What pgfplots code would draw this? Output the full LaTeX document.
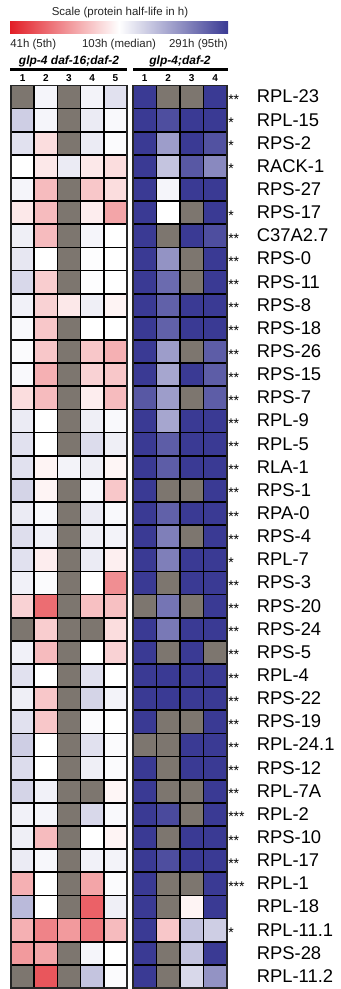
\documentclass[border=0pt]{standalone}
\usepackage{fontspec}
\setmainfont{Liberation Sans}
\usepackage{pgfplots}
\pgfplotsset{compat=1.18}

\definecolor{cred}{RGB}{226,30,38}
\definecolor{cblue}{RGB}{58,58,148}
\definecolor{cgray}{RGB}{125,118,111}

% value scale: -1 = 41h (5th, red), 0 = 103h (median, white), 1 = 291h (95th, blue); -2 = no data (gray)
\pgfplotsset{
  colormap={hl}{[1pt] color(0pt)=(cgray) color(9pt)=(cgray) color(10pt)=(cred) color(20pt)=(white) color(30pt)=(cblue)},
  hm/.style={
    scale only axis, height=676.9pt, y dir=reverse,
    ymin=-0.5, ymax=38.5, enlargelimits=false,
    colormap name=hl, point meta min=-2, point meta max=1,
    axis on top,
    ytick={0,...,38},
    minor ytick={-0.5,0.5,...,38.5},
    xminorgrids=true, yminorgrids=true,
    minor grid style={black, line width=1.3pt},
    major tick length=0pt, minor tick length=0pt,
    axis line style={black!85, line width=1.3pt},
    xticklabel pos=upper,
    xticklabel style={font=\bfseries\fontsize{7.5}{8}\selectfont, inner sep=0pt, anchor=south, yshift=3pt},
    /pgf/number format/assume math mode=true,
  },
}
\newcommand\lab[2]{\makebox[21.4pt][l]{\raisebox{-1.2pt}{\fontsize{10.5}{10}\selectfont #1}}#2}

\begin{document}
\begin{tikzpicture}
\useasboundingbox (0pt,0pt) rectangle (255pt,-741.75pt);

% scale bar
\node[anchor=base, font=\fontsize{8.6}{10}\selectfont, text=black!85] at (90pt,-11.25pt) {Scale (protein half-life in h)};
\shade[left color=cred, right color=white] (7.5pt,-15.75pt) rectangle (89.25pt,-24.75pt);
\shade[left color=white, right color=cblue] (89.25pt,-15.75pt) rectangle (171pt,-24.75pt);
\node[anchor=base west, inner sep=0pt, font=\fontsize{8.6}{10}\selectfont, text=black!85] at (7.5pt,-35.25pt) {41h (5th)};
\node[anchor=base, inner sep=0pt, font=\fontsize{8.6}{10}\selectfont, text=black!85] at (89.25pt,-35.25pt) {103h (median)};
\node[anchor=base east, inner sep=0pt, font=\fontsize{8.6}{10}\selectfont, text=black!85] at (171pt,-35.25pt) {291h (95th)};

% group headers
\node[anchor=base, inner sep=0pt, font=\bfseries\itshape\fontsize{9}{10}\selectfont] at (51.75pt,-48.4pt) {glp-4 daf-16;daf-2};
\node[anchor=base, inner sep=0pt, font=\bfseries\itshape\fontsize{9}{10}\selectfont] at (135pt,-48.4pt) {glp-4;daf-2};
\draw[line width=2.8pt] (7.5pt,-52.1pt) -- (95.25pt,-52.1pt);
\draw[line width=2.8pt] (99.75pt,-52.1pt) -- (171pt,-52.1pt);

% left heatmap: glp-4 daf-16;daf-2
\begin{axis}[hm, at={(8.25pt,-64.1pt)}, anchor=north west, width=87pt,
  xmin=-0.5, xmax=4.5, xtick={0,...,4}, xticklabels={1,2,3,4,5},
  minor xtick={-0.5,0.5,...,4.5}, yticklabel=\empty]
\addplot[matrix plot*, mesh/cols=5, point meta=explicit] table[meta=v, row sep=\\] {
x y v \\
0 0 -2 \\ 1 0 0.05 \\ 2 0 -2 \\ 3 0 0.06 \\ 4 0 0.15 \\
0 1 0.25 \\ 1 1 0.05 \\ 2 1 -2 \\ 3 1 0.1 \\ 4 1 0.03 \\
0 2 0.15 \\ 1 2 -0.15 \\ 2 2 -2 \\ 3 2 0.1 \\ 4 2 0.02 \\
0 3 0 \\ 1 3 -0.1 \\ 2 3 0.1 \\ 3 3 -0.1 \\ 4 3 -0.15 \\
0 4 0.05 \\ 1 4 -0.3 \\ 2 4 -2 \\ 3 4 -0.25 \\ 4 4 -0.15 \\
0 5 -0.1 \\ 1 5 -0.3 \\ 2 5 -2 \\ 3 5 -0.08 \\ 4 5 -0.4 \\
0 6 0.08 \\ 1 6 -0.3 \\ 2 6 -2 \\ 3 6 0.05 \\ 4 6 0 \\
0 7 0.12 \\ 1 7 0 \\ 2 7 -2 \\ 3 7 0.01 \\ 4 7 0 \\
0 8 0.2 \\ 1 8 -0.22 \\ 2 8 -2 \\ 3 8 0.01 \\ 4 8 0 \\
0 9 0.07 \\ 1 9 -0.2 \\ 2 9 -0.1 \\ 3 9 0.08 \\ 4 9 -0.05 \\
0 10 0.03 \\ 1 10 -0.25 \\ 2 10 -2 \\ 3 10 0 \\ 4 10 0 \\
0 11 0.02 \\ 1 11 -0.25 \\ 2 11 -2 \\ 3 11 -0.25 \\ 4 11 -0.35 \\
0 12 0.03 \\ 1 12 -0.35 \\ 2 12 -2 \\ 3 12 -0.2 \\ 4 12 -0.25 \\
0 13 -0.15 \\ 1 13 -0.3 \\ 2 13 -2 \\ 3 13 -0.08 \\ 4 13 -0.3 \\
0 14 0.1 \\ 1 14 0 \\ 2 14 -2 \\ 3 14 0.08 \\ 4 14 0.03 \\
0 15 0.15 \\ 1 15 0 \\ 2 15 -2 \\ 3 15 0.18 \\ 4 15 0.08 \\
0 16 0.15 \\ 1 16 -0.05 \\ 2 16 0.06 \\ 3 16 0.08 \\ 4 16 -0.04 \\
0 17 0.22 \\ 1 17 -0.05 \\ 2 17 -2 \\ 3 17 0.04 \\ 4 17 -0.25 \\
0 18 0.1 \\ 1 18 0.03 \\ 2 18 -2 \\ 3 18 0.1 \\ 4 18 0.03 \\
0 19 0.17 \\ 1 19 0.07 \\ 2 19 -2 \\ 3 19 0.08 \\ 4 19 0.06 \\
0 20 0.15 \\ 1 20 -0.08 \\ 2 20 -2 \\ 3 20 0.1 \\ 4 20 -0.07 \\
0 21 0.07 \\ 1 21 0.02 \\ 2 21 -2 \\ 3 21 0 \\ 4 21 -0.5 \\
0 22 -0.2 \\ 1 22 -0.65 \\ 2 22 -2 \\ 3 22 -0.28 \\ 4 22 -0.28 \\
0 23 -2 \\ 1 23 -0.22 \\ 2 23 -2 \\ 3 23 -2 \\ 4 23 -0.15 \\
0 24 0.07 \\ 1 24 -0.3 \\ 2 24 -2 \\ 3 24 0 \\ 4 24 -0.2 \\
0 25 0.15 \\ 1 25 0 \\ 2 25 -2 \\ 3 25 0.15 \\ 4 25 0 \\
0 26 0.08 \\ 1 26 -0.25 \\ 2 26 -2 \\ 3 26 0.22 \\ 4 26 0.06 \\
0 27 0.15 \\ 1 27 -0.25 \\ 2 27 -2 \\ 3 27 0.02 \\ 4 27 0 \\
0 28 0.25 \\ 1 28 0 \\ 2 28 -2 \\ 3 28 0.15 \\ 4 28 0.02 \\
0 29 0.18 \\ 1 29 0 \\ 2 29 -2 \\ 3 29 0.08 \\ 4 29 0.02 \\
0 30 0.22 \\ 1 30 0.07 \\ 2 30 -2 \\ 3 30 -2 \\ 4 30 -0.04 \\
0 31 0.07 \\ 1 31 0.05 \\ 2 31 -2 \\ 3 31 0.2 \\ 4 31 0.03 \\
0 32 0.08 \\ 1 32 -0.3 \\ 2 32 -2 \\ 3 32 0 \\ 4 32 -0.05 \\
0 33 0.1 \\ 1 33 0.04 \\ 2 33 -2 \\ 3 33 0.07 \\ 4 33 0.06 \\
0 34 -0.35 \\ 1 34 0 \\ 2 34 -2 \\ 3 34 -0.4 \\ 4 34 0.02 \\
0 35 0.35 \\ 1 35 0 \\ 2 35 -2 \\ 3 35 -0.7 \\ 4 35 0.08 \\
0 36 -0.35 \\ 1 36 -0.55 \\ 2 36 -0.45 \\ 3 36 -0.6 \\ 4 36 -0.3 \\
0 37 -0.45 \\ 1 37 -0.4 \\ 2 37 -2 \\ 3 37 0.05 \\ 4 37 0 \\
0 38 -2 \\ 1 38 -0.75 \\ 2 38 -2 \\ 3 38 0.3 \\ 4 38 0.02 \\
};
\end{axis}

% right heatmap: glp-4;daf-2
\begin{axis}[hm, at={(99.75pt,-64.1pt)}, anchor=north west, width=70.5pt,
  xmin=-0.5, xmax=3.5, xtick={0,...,3}, xticklabels={1,2,3,4},
  minor xtick={-0.5,0.5,...,3.5},
  yticklabel pos=right,
  yticklabel style={anchor=base west, inner sep=0pt, xshift=0.75pt, yshift=-4.4pt, font=\fontsize{13.8}{14}\selectfont},
  yticklabels={\lab{**}{RPL-23},\lab{*}{RPL-15},\lab{*}{RPS-2},\lab{*}{RACK-1},\lab{}{RPS-27},
   \lab{*}{RPS-17},\lab{**}{C37A2.7},\lab{**}{RPS-0},\lab{**}{RPS-11},\lab{**}{RPS-8},
   \lab{**}{RPS-18},\lab{**}{RPS-26},\lab{**}{RPS-15},\lab{**}{RPS-7},\lab{**}{RPL-9},
   \lab{**}{RPL-5},\lab{**}{RLA-1},\lab{**}{RPS-1},\lab{**}{RPA-0},\lab{**}{RPS-4},
   \lab{*}{RPL-7},\lab{**}{RPS-3},\lab{**}{RPS-20},\lab{**}{RPS-24},\lab{**}{RPS-5},
   \lab{**}{RPL-4},\lab{**}{RPS-22},\lab{**}{RPS-19},\lab{**}{RPL-24.1},\lab{**}{RPS-12},
   \lab{**}{RPL-7A},\lab{***}{RPL-2},\lab{**}{RPS-10},\lab{**}{RPL-17},\lab{***}{RPL-1},
   \lab{}{RPL-18},\lab{*}{RPL-11.1},\lab{}{RPS-28},\lab{}{RPL-11.2}}]
\addplot[matrix plot*, mesh/cols=4, point meta=explicit] table[meta=v, row sep=\\] {
x y v \\
0 0 1 \\ 1 0 -2 \\ 2 0 -2 \\ 3 0 1 \\
0 1 1 \\ 1 1 0.9 \\ 2 1 1 \\ 3 1 1 \\
0 2 1 \\ 1 2 0.5 \\ 2 2 1 \\ 3 2 0.88 \\
0 3 1 \\ 1 3 0.3 \\ 2 3 0.85 \\ 3 3 0.6 \\
0 4 1 \\ 1 4 0.05 \\ 2 4 1 \\ 3 4 1 \\
0 5 1 \\ 1 5 0 \\ 2 5 -2 \\ 3 5 1 \\
0 6 1 \\ 1 6 -2 \\ 2 6 1 \\ 3 6 0.9 \\
0 7 1 \\ 1 7 0.55 \\ 2 7 -2 \\ 3 7 1 \\
0 8 1 \\ 1 8 0.75 \\ 2 8 -2 \\ 3 8 1 \\
0 9 1 \\ 1 9 0.8 \\ 2 9 1 \\ 3 9 1 \\
0 10 1 \\ 1 10 0.8 \\ 2 10 1 \\ 3 10 1 \\
0 11 1 \\ 1 11 0.5 \\ 2 11 -2 \\ 3 11 0.82 \\
0 12 1 \\ 1 12 0.45 \\ 2 12 1 \\ 3 12 0.82 \\
0 13 0.85 \\ 1 13 0.5 \\ 2 13 -2 \\ 3 13 0.82 \\
0 14 1 \\ 1 14 0.45 \\ 2 14 1 \\ 3 14 1 \\
0 15 1 \\ 1 15 0.82 \\ 2 15 1 \\ 3 15 1 \\
0 16 1 \\ 1 16 0.82 \\ 2 16 1 \\ 3 16 1 \\
0 17 1 \\ 1 17 -2 \\ 2 17 -2 \\ 3 17 1 \\
0 18 1 \\ 1 18 0.8 \\ 2 18 1 \\ 3 18 1 \\
0 19 1 \\ 1 19 0.65 \\ 2 19 -2 \\ 3 19 1 \\
0 20 1 \\ 1 20 0.65 \\ 2 20 1 \\ 3 20 1 \\
0 21 1 \\ 1 21 -2 \\ 2 21 1 \\ 3 21 1 \\
0 22 -2 \\ 1 22 0.7 \\ 2 22 -2 \\ 3 22 1 \\
0 23 1 \\ 1 23 0.68 \\ 2 23 1 \\ 3 23 1 \\
0 24 1 \\ 1 24 -2 \\ 2 24 1 \\ 3 24 -2 \\
0 25 1 \\ 1 25 1 \\ 2 25 1 \\ 3 25 1 \\
0 26 1 \\ 1 26 1 \\ 2 26 1 \\ 3 26 1 \\
0 27 1 \\ 1 27 -2 \\ 2 27 -2 \\ 3 27 1 \\
0 28 -2 \\ 1 28 -2 \\ 2 28 1 \\ 3 28 1 \\
0 29 1 \\ 1 29 -2 \\ 2 29 1 \\ 3 29 1 \\
0 30 1 \\ 1 30 -2 \\ 2 30 -2 \\ 3 30 1 \\
0 31 1 \\ 1 31 0.92 \\ 2 31 -2 \\ 3 31 1 \\
0 32 1 \\ 1 32 -2 \\ 2 32 1 \\ 3 32 1 \\
0 33 1 \\ 1 33 0.9 \\ 2 33 1 \\ 3 33 1 \\
0 34 1 \\ 1 34 -2 \\ 2 34 -2 \\ 3 34 1 \\
0 35 1 \\ 1 35 -2 \\ 2 35 -0.05 \\ 3 35 1 \\
0 36 1 \\ 1 36 -0.25 \\ 2 36 0.3 \\ 3 36 0.25 \\
0 37 1 \\ 1 37 -2 \\ 2 37 0.3 \\ 3 37 1 \\
0 38 1 \\ 1 38 -2 \\ 2 38 0.2 \\ 3 38 0.55 \\
};
\end{axis}
\end{tikzpicture}
\end{document}
